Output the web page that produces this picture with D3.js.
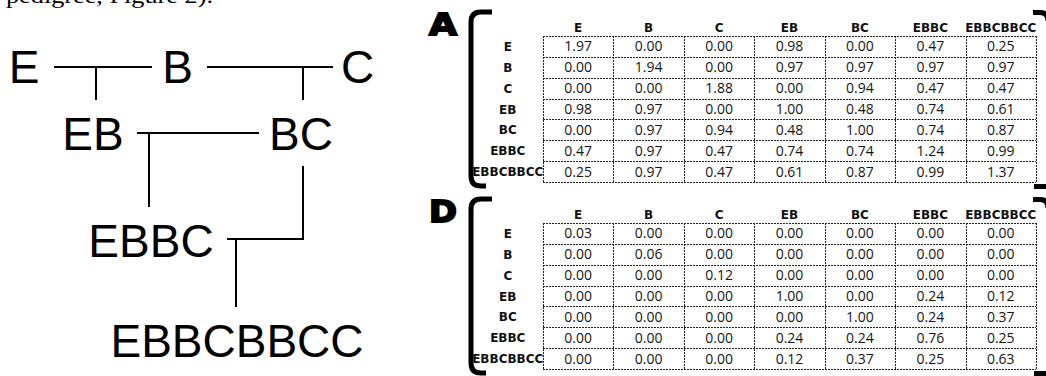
<!doctype html>
<html>
<head>
<meta charset="utf-8">
<script src="https://d3js.org/d3.v7.min.js"></script>
<style>
body { margin: 0; background: #fff; }
svg { display: block; }
.node { font-family: "Liberation Sans", Arial, sans-serif; font-size: 46px; fill: #000; }
.hdr { font-family: "DejaVu Sans", Verdana, sans-serif; font-weight: bold; font-size: 12px; fill: #111; }
.val { font-family: "Open Sans", "DejaVu Sans", sans-serif; font-size: 14px; fill: #151515; }
.big { font-family: "DejaVu Sans", sans-serif; font-weight: 900; font-size: 30px; fill: #000; stroke: #000; stroke-width: 1.8px; }
.grid { stroke: #222; stroke-width: 1; stroke-dasharray: 2,1; fill: none; }
.brk { stroke: #000; stroke-width: 5; fill: none; }
.link { stroke: #000; stroke-width: 2; fill: none; }
</style>
</head>
<body>
<script>
// names of individuals
var names = ["E", "B", "C", "EB", "BC", "EBBC", "EBBCBBCC"];

// relationship matrix A
var matA = [
  [1.97, 0.00, 0.00, 0.98, 0.00, 0.47, 0.25],
  [0.00, 1.94, 0.00, 0.97, 0.97, 0.97, 0.97],
  [0.00, 0.00, 1.88, 0.00, 0.94, 0.47, 0.47],
  [0.98, 0.97, 0.00, 1.00, 0.48, 0.74, 0.61],
  [0.00, 0.97, 0.94, 0.48, 1.00, 0.74, 0.87],
  [0.47, 0.97, 0.47, 0.74, 0.74, 1.24, 0.99],
  [0.25, 0.97, 0.47, 0.61, 0.87, 0.99, 1.37]
];

// matrix D
var matD = [
  [0.03, 0.00, 0.00, 0.00, 0.00, 0.00, 0.00],
  [0.00, 0.06, 0.00, 0.00, 0.00, 0.00, 0.00],
  [0.00, 0.00, 0.12, 0.00, 0.00, 0.00, 0.00],
  [0.00, 0.00, 0.00, 1.00, 0.00, 0.24, 0.12],
  [0.00, 0.00, 0.00, 0.00, 1.00, 0.24, 0.37],
  [0.00, 0.00, 0.00, 0.24, 0.24, 0.76, 0.25],
  [0.00, 0.00, 0.00, 0.12, 0.37, 0.25, 0.63]
];

// pedigree layout: label centre x, baseline y
var pedNodes = [
  {id: "E", x: 24, y: 83},
  {id: "B", x: 177.5, y: 83},
  {id: "C", x: 357.5, y: 83},
  {id: "EB", x: 93, y: 150},
  {id: "BC", x: 301, y: 150},
  {id: "EBBC", x: 151, y: 257},
  {id: "EBBCBBCC", x: 237, y: 357}
];
var pedLinks = [
  [[54, 67], [152, 67]], [[96, 67], [96, 100]],
  [[207, 67], [333, 67]], [[303, 67], [303, 100]],
  [[137, 133], [259, 133]], [[149, 133], [149, 207]],
  [[303, 166], [303, 239], [227, 239]], [[236, 239], [236, 307]]
];

var W = 1046, H = 376;
var svg = d3.select("body").append("svg").attr("width", W).attr("height", H);

// cut-off caption line at top
svg.append("text")
  .attr("x", 6).attr("y", 3)
  .attr("textLength", 207).attr("lengthAdjust", "spacingAndGlyphs")
  .style("font-family", "Liberation Serif, Times New Roman, serif")
  .style("font-size", "22px")
  .text("pedigree, Figure 2).");

// pedigree
svg.selectAll(".node").data(pedNodes).enter().append("text")
  .attr("class", "node")
  .attr("x", function(d) { return d.x; })
  .attr("y", function(d) { return d.y; })
  .attr("text-anchor", "middle")
  .text(function(d) { return d.id; });

var line = d3.line();
svg.selectAll(".link").data(pedLinks).enter().append("path")
  .attr("class", "link")
  .attr("d", line);

// draw one matrix panel
function panel(letter, mat, top) {
  var g = svg.append("g");
  var x = d3.scaleBand().domain(names).range([543, 1036]);
  var y = d3.scaleBand().domain(names).range([top, top + 146]);
  var bw = x.bandwidth(), bh = y.bandwidth();

  g.append("text").attr("class", "big")
    .attr("x", 429).attr("y", top - 1)
    .attr("textLength", 28).attr("lengthAdjust", "spacingAndGlyphs")
    .text(letter);

  // left bracket
  var t = top - 24, b = top + 150, r = 10;
  g.append("path").attr("class", "brk")
    .attr("d", "M492," + t + " L" + (471 + r) + "," + t +
      " Q471," + t + " 471," + (t + r) + " L471," + (b - r) +
      " Q471," + b + " " + (471 + r) + "," + b + " L486," + b);
  // right bracket (mostly off page)
  g.append("path").attr("class", "brk")
    .attr("d", "M1033," + (t + 0.5) + " L1040," + (t + 0.5) + " Q1048," + (t + 0.5) + " 1048," + (t + 9));
  g.append("path").attr("class", "brk")
    .attr("d", "M1034," + (b + 0.5) + " L1048," + (b + 0.5));

  // column headers
  g.selectAll(".hdr.col").data(names).enter().append("text")
    .attr("class", "hdr col")
    .attr("x", function(d) { return x(d) + bw / 2; })
    .attr("y", top - 4)
    .attr("text-anchor", "middle")
    .text(function(d) { return d; });

  // row headers
  g.selectAll(".hdr.row").data(names).enter().append("text")
    .attr("class", "hdr row")
    .attr("x", 543 - bw / 2)
    .attr("y", function(d) { return y(d) + bh / 2 + 4.5; })
    .attr("text-anchor", "middle")
    .text(function(d) { return d; });

  // grid
  var xs = names.map(function(d) { return x(d); }).concat([1036]);
  var ys = names.map(function(d) { return y(d); }).concat([top + 146]);
  g.selectAll(".vl").data(xs).enter().append("line").attr("class", "grid")
    .attr("x1", function(d) { return Math.round(d) + 0.5; })
    .attr("x2", function(d) { return Math.round(d) + 0.5; })
    .attr("y1", top).attr("y2", top + 146);
  g.selectAll(".hl").data(ys).enter().append("line").attr("class", "grid")
    .attr("y1", function(d) { return Math.round(d) + 0.5; })
    .attr("y2", function(d) { return Math.round(d) + 0.5; })
    .attr("x1", 543).attr("x2", 1036);

  // values
  var cells = [];
  mat.forEach(function(row, i) {
    row.forEach(function(v, j) { cells.push({r: names[i], c: names[j], v: v}); });
  });
  g.selectAll(".val").data(cells).enter().append("text")
    .attr("class", "val")
    .attr("x", function(d) { return x(d.c) + bw / 2; })
    .attr("y", function(d) { return y(d.r) + bh / 2 + 5; })
    .attr("text-anchor", "middle")
    .text(function(d) { return d.v.toFixed(2); });
}

panel("A", matA, 36);
panel("D", matD, 223);
</script>
</body>
</html>
